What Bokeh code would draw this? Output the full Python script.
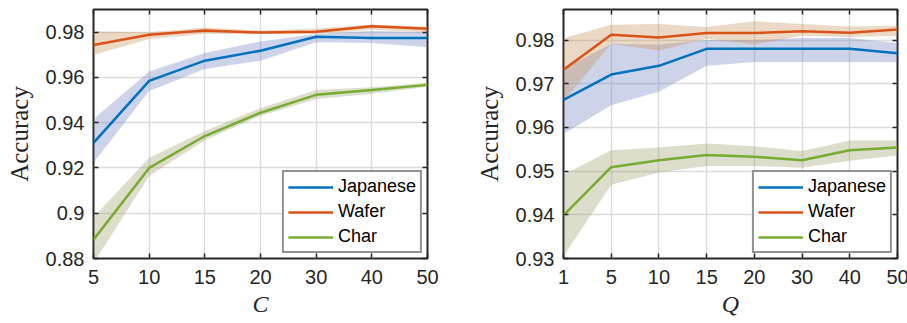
from bokeh.plotting import figure
from bokeh.layouts import row
from bokeh.models import FixedTicker, LinearAxis, Range1d, NumeralTickFormatter
from bokeh.embed import file_html
from bokeh.resources import INLINE

# ---- data: left panel (C) ----
c_labels = ["5", "10", "15", "20", "30", "40", "50"]
c_japanese = [0.9311, 0.9585, 0.9674, 0.9718, 0.9780, 0.9774, 0.9774]
c_japanese_hi = [0.9416, 0.9626, 0.9708, 0.9759, 0.9792, 0.9805, 0.9800]
c_japanese_lo = [0.9223, 0.9540, 0.9637, 0.9674, 0.9755, 0.9752, 0.9733]
c_wafer = [0.9743, 0.9788, 0.9807, 0.9798, 0.9802, 0.9826, 0.9815]
c_wafer_hi = [0.9803, 0.9800, 0.9821, 0.9807, 0.9816, 0.9834, 0.9825]
c_wafer_lo = [0.9699, 0.9770, 0.9793, 0.9793, 0.9793, 0.9810, 0.9800]
c_char = [0.8883, 0.9200, 0.9341, 0.9444, 0.9523, 0.9544, 0.9567]
c_char_hi = [0.8982, 0.9245, 0.9363, 0.9464, 0.9544, 0.9556, 0.9577]
c_char_lo = [0.8780, 0.9164, 0.9322, 0.9430, 0.9505, 0.9528, 0.9559]

# ---- data: right panel (Q) ----
q_labels = ["1", "5", "10", "15", "20", "30", "40", "50"]
q_japanese = [0.9663, 0.9721, 0.9741, 0.9780, 0.9780, 0.9780, 0.9780, 0.9770]
q_japanese_hi = [0.9735, 0.9791, 0.9790, 0.9800, 0.9800, 0.9805, 0.9805, 0.9793]
q_japanese_lo = [0.9585, 0.9651, 0.9682, 0.9741, 0.9750, 0.9750, 0.9750, 0.9750]
q_wafer = [0.9732, 0.9812, 0.9806, 0.9816, 0.9816, 0.9820, 0.9817, 0.9824]
q_wafer_hi = [0.9804, 0.9835, 0.9837, 0.9830, 0.9843, 0.9837, 0.9831, 0.9833]
q_wafer_lo = [0.9660, 0.9791, 0.9776, 0.9803, 0.9790, 0.9810, 0.9807, 0.9810]
q_char = [0.9399, 0.9509, 0.9525, 0.9537, 0.9533, 0.9525, 0.9548, 0.9554]
q_char_hi = [0.9492, 0.9548, 0.9554, 0.9563, 0.9557, 0.9546, 0.9570, 0.9570]
q_char_lo = [0.9305, 0.9469, 0.9497, 0.9512, 0.9512, 0.9508, 0.9524, 0.9536]

series_names = ["Japanese", "Wafer", "Char"]
line_colors = ["#0072BD", "#D95319", "#77AC30"]
band_colors = ["#6f84c0", "#c8915a", "#9a9f6a"]

TICK_FONT = "Liberation Sans"
LABEL_FONT = "Liberation Serif"
INK = "#262626"


def box_axis(ticks):
    return LinearAxis(ticker=FixedTicker(ticks=ticks), major_label_text_font_size="0px",
                      major_label_text_color=None, major_tick_in=5, major_tick_out=0,
                      minor_tick_line_color=None, axis_line_color=None,
                      major_tick_line_color=INK, major_tick_line_width=1.5,
                      major_label_standoff=0)


def make_panel(labels, series, y0, y1, yticks, xlabel, min_left, min_right):
    xs = list(range(len(labels)))
    p = figure(frame_width=334, frame_height=249, output_backend="svg",
               toolbar_location=None, x_range=Range1d(0, len(labels) - 1),
               y_range=Range1d(y0, y1), min_border_left=min_left,
               min_border_right=min_right, min_border_top=9, min_border_bottom=64)
    p.background_fill_color = "white"
    p.outline_line_color = INK
    p.outline_line_width = 2

    for (mid, hi, lo), bc in zip(series, band_colors):
        p.varea(x=xs, y1=lo, y2=hi, fill_color=bc, fill_alpha=0.35)
    for (mid, hi, lo), name, lc in zip(series, series_names, line_colors):
        p.line(xs, mid, line_color=lc, line_width=2.5, legend_label=name)

    xa = p.xaxis[0]
    xa.ticker = FixedTicker(ticks=xs)
    xa.major_label_overrides = {i: s for i, s in enumerate(labels)}
    ya = p.yaxis[0]
    ya.ticker = FixedTicker(ticks=yticks)
    ya.formatter = NumeralTickFormatter(format="0.[00]")

    for ax in (xa, ya):
        ax.axis_line_color = None
        ax.major_tick_in = 5
        ax.major_tick_out = 0
        ax.major_tick_line_color = INK
        ax.major_tick_line_width = 1.5
        ax.minor_tick_line_color = None
        ax.major_label_text_font = TICK_FONT
        ax.major_label_text_font_size = "20px"
        ax.major_label_text_color = INK
        ax.axis_label_text_font = LABEL_FONT
        ax.axis_label_text_color = INK
    xa.major_label_standoff = 11
    ya.major_label_standoff = 9
    xa.axis_label = xlabel
    xa.axis_label_text_font_style = "italic"
    xa.axis_label_text_font_size = "24px"
    xa.axis_label_standoff = 4
    ya.axis_label = "Accuracy"
    ya.axis_label_text_font_style = "normal"
    ya.axis_label_text_font_size = "25px"
    ya.axis_label_standoff = 10

    p.add_layout(box_axis(xs), "above")
    p.add_layout(box_axis(yticks), "right")

    p.xgrid.grid_line_color = "#dcdcdc"
    p.xgrid.grid_line_width = 1.5
    p.ygrid.grid_line_color = "#dcdcdc"
    p.ygrid.grid_line_width = 1.5
    p.xgrid.ticker = FixedTicker(ticks=xs)
    p.ygrid.ticker = FixedTicker(ticks=yticks)

    lg = p.legend[0]
    lg.location = "bottom_right"
    lg.border_line_color = INK
    lg.border_line_width = 2
    lg.background_fill_color = "white"
    lg.background_fill_alpha = 1
    lg.label_text_font = TICK_FONT
    lg.label_text_font_size = "18px"
    lg.label_text_color = "black"
    lg.glyph_width = 45
    lg.glyph_height = 20
    lg.label_height = 20
    lg.label_standoff = 5
    lg.spacing = 4
    lg.padding = 4
    lg.margin = 5
    return p


left = make_panel(c_labels,
                  [(c_japanese, c_japanese_hi, c_japanese_lo),
                   (c_wafer, c_wafer_hi, c_wafer_lo),
                   (c_char, c_char_hi, c_char_lo)],
                  0.88, 0.99, [0.88, 0.90, 0.92, 0.94, 0.96, 0.98], "C", 93, 45)
right = make_panel(q_labels,
                   [(q_japanese, q_japanese_hi, q_japanese_lo),
                    (q_wafer, q_wafer_hi, q_wafer_lo),
                    (q_char, q_char_hi, q_char_lo)],
                   0.93, 0.987, [0.93, 0.94, 0.95, 0.96, 0.97, 0.98], "Q", 90, 12)

layout = row(left, right)
open("out.html", "w").write(file_html(layout, INLINE))
